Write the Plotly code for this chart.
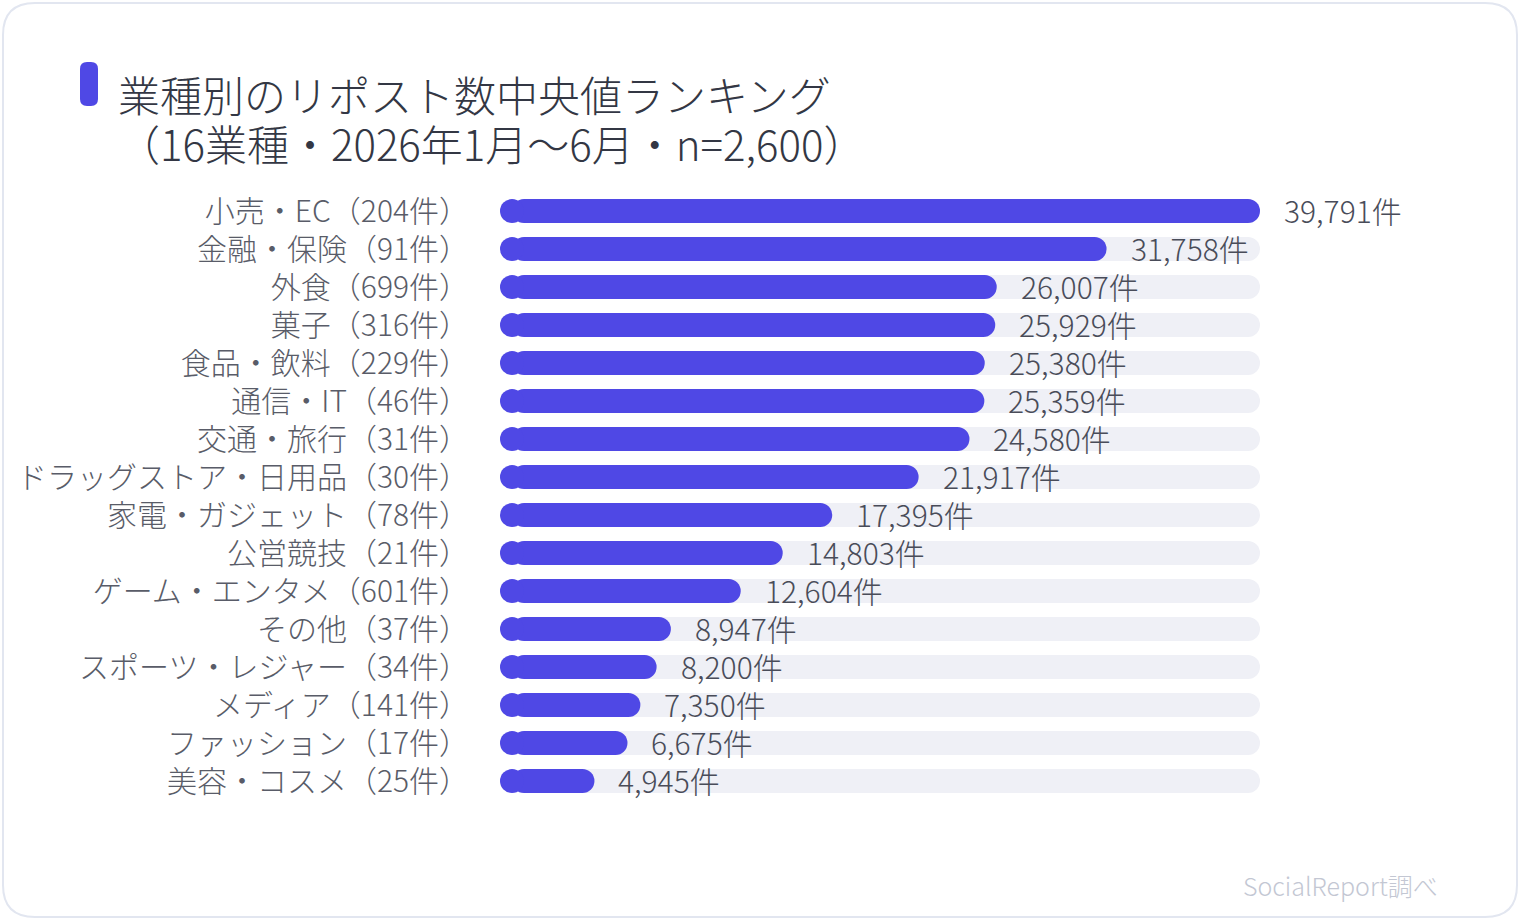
import plotly.graph_objects as go

categories = ["小売・EC（204件）", "金融・保険（91件）", "外食（699件）", "菓子（316件）",
              "食品・飲料（229件）", "通信・IT（46件）", "交通・旅行（31件）",
              "ドラッグストア・日用品（30件）", "家電・ガジェット（78件）", "公営競技（21件）",
              "ゲーム・エンタメ（601件）", "その他（37件）", "スポーツ・レジャー（34件）",
              "メディア（141件）", "ファッション（17件）", "美容・コスメ（25件）"]
values = [39791, 31758, 26007, 25929, 25380, 25359, 24580, 21917,
          17395, 14803, 12604, 8947, 8200, 7350, 6675, 4945]
value_labels = [f"{v:,}件" for v in values]
title_line1 = "業種別のリポスト数中央値ランキング"
title_line2 = "（16業種・2026年1月〜6月・n=2,600）"
source_text = "SocialReport調べ"

W, H = 1520, 920
L, R, T, B = 500, 260, 192, 120
PW, PH = W - L - R, H - T - B
FONT = "Noto Sans CJK JP Light, Noto Sans CJK JP DemiLight, Noto Sans CJK JP, sans-serif"
ACCENT = "#4F48E5"
TRACK = "#EFF0F6"
vmax = max(values)
n = len(categories)
BAR_PX = 24
cap = (BAR_PX / 2) / PW * vmax  # half bar height in data units


def px(x):
    return (x - L) / PW


def py(y):
    return (H - B - y) / PH


def rrect(x0, y0, x1, y1, r):
    return (f"M {px(x0 + r)} {py(y0)} L {px(x1 - r)} {py(y0)} "
            f"Q {px(x1)} {py(y0)} {px(x1)} {py(y0 + r)} "
            f"L {px(x1)} {py(y1 - r)} Q {px(x1)} {py(y1)} {px(x1 - r)} {py(y1)} "
            f"L {px(x0 + r)} {py(y1)} Q {px(x0)} {py(y1)} {px(x0)} {py(y1 - r)} "
            f"L {px(x0)} {py(y0 + r)} Q {px(x0)} {py(y0)} {px(x0 + r)} {py(y0)} Z")


bw = BAR_PX / (PH / n)

fig = go.Figure()
# track
fig.add_trace(go.Bar(
    y=categories, x=[vmax - cap] * n, base=cap, orientation="h",
    marker=dict(color=TRACK, line=dict(width=0)), width=bw,
    hoverinfo="skip", showlegend=False))
# value bars (rounded right end)
fig.add_trace(go.Bar(
    y=categories, x=[v - cap for v in values], base=cap, orientation="h",
    marker=dict(color=ACCENT, line=dict(width=0)), width=bw,
    hovertext=value_labels, hoverinfo="y+text", showlegend=False))
# rounded left ends (short reversed bars)
fig.add_trace(go.Bar(
    y=categories, x=[-2 * cap] * n, base=2 * cap, orientation="h",
    marker=dict(color=ACCENT, line=dict(width=0)), width=bw,
    hoverinfo="skip", showlegend=False))

for c, v, t in zip(categories, values, value_labels):
    fig.add_annotation(x=v, y=c, xref="x", yref="y", text=t, showarrow=False,
                       xanchor="left", yanchor="middle", xshift=22, yshift=1,
                       font=dict(family=FONT, size=30, color="#494C59", weight=300))

shapes = [
    dict(type="path", xref="paper", yref="paper", path=rrect(3, 3, 1517, 917, 32),
         line=dict(color="#E2E6F0", width=2), fillcolor="rgba(0,0,0,0)", layer="below"),
    dict(type="path", xref="paper", yref="paper", path=rrect(80, 62, 98, 106, 7),
         line=dict(width=0), fillcolor=ACCENT),
]

annotations = [
    dict(x=px(116), y=py(93), xref="paper", yref="paper", text=title_line1, showarrow=False,
         xanchor="left", yanchor="middle",
         font=dict(family=FONT, size=42, color="#333744", weight=300)),
    dict(x=px(116), y=py(143), xref="paper", yref="paper", text=title_line2, showarrow=False,
         xanchor="left", yanchor="middle",
         font=dict(family=FONT, size=42, color="#333744", weight=300)),
    dict(x=px(1440), y=py(885), xref="paper", yref="paper", text=source_text, showarrow=False,
         xanchor="right", yanchor="middle",
         font=dict(family=FONT, size=25, color="#C3C7D3", weight=300)),
]
for a in annotations:
    fig.add_annotation(**a)

fig.update_layout(
    width=W, height=H, margin=dict(l=L, r=R, t=T, b=B, autoexpand=False),
    paper_bgcolor="white", plot_bgcolor="white",
    barmode="overlay", barcornerradius="50%",
    shapes=shapes, showlegend=False,
    font=dict(family=FONT),
    xaxis=dict(range=[0, vmax], visible=False, fixedrange=True),
    yaxis=dict(range=[n - 0.5, -0.5], autorange=False, showgrid=False, zeroline=False,
               showline=False, ticks="", ticklabelstandoff=30, fixedrange=True,
               tickmode="array", tickvals=categories, ticktext=categories,
               categoryorder="array", categoryarray=categories,
               tickfont=dict(family=FONT, size=30, color="#595C68", weight=300)),
)
fig.update_traces(cliponaxis=False)

fig.write_html("out.html")
